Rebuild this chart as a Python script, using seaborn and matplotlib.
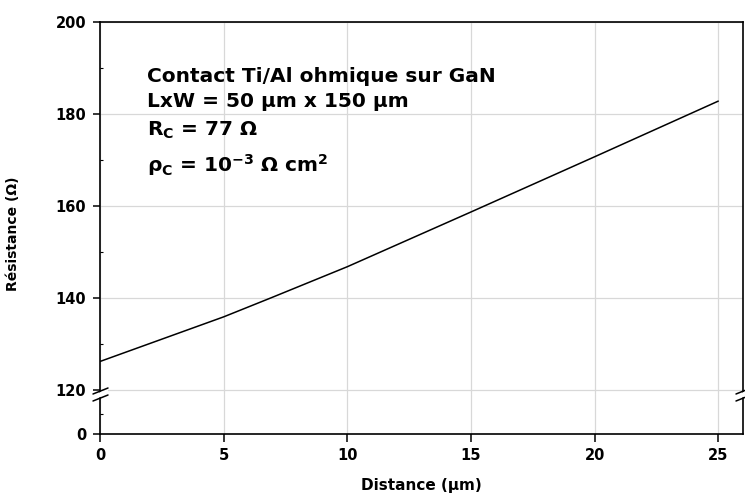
import matplotlib
matplotlib.use("Agg")
import matplotlib.pyplot as plt
from matplotlib.lines import Line2D
from matplotlib.patches import Polygon
from matplotlib.ticker import MultipleLocator, FixedLocator
import seaborn as sns
import pandas as pd

# ---- data ----
distance_um = [0, 5, 6.9, 10, 15, 20, 25]
resistance_ohm = [126.2, 135.9, 140.0, 146.8, 158.7, 170.7, 182.8]
x_ticks = [0, 5, 10, 15, 20, 25]
y_ticks_top = [120, 140, 160, 180, 200]
y_ticks_bottom = [0]
annot_lines = [
    "Contact Ti/Al ohmique sur GaN",
    "LxW = 50 µm x 150 µm",
    r"R$_\mathbf{C}$ = 77 Ω",
    r"ρ$_\mathbf{C}$ = 10$^\mathbf{-3}$ Ω cm$^\mathbf{2}$",
]
xlabel = "Distance (µm)"
ylabel = "Résistance (Ω)"

sns.set_style("white")
plt.rcParams["font.family"] = ["DejaVu Sans"]
plt.rcParams["font.weight"] = "bold"
plt.rcParams["mathtext.default"] = "bf"
for k in ("text.color", "axes.labelcolor", "xtick.color", "ytick.color", "axes.edgecolor"):
    plt.rcParams[k] = "black"

W, H = 745, 495
fig = plt.figure(figsize=(W / 100, H / 100), dpi=100)

def fx(px):
    return px / W

def fy(py):
    return 1 - py / H

left, right = 100, 743
top_t, top_b = 22, 394
bot_b = 434
ax_top = fig.add_axes([fx(left), fy(top_b), (right - left) / W, (top_b - top_t) / H])
ax_bot = fig.add_axes([fx(left), fy(bot_b), (right - left) / W, (bot_b - top_b) / H])

df = pd.DataFrame({"Distance": distance_um, "Resistance": resistance_ohm})
sns.lineplot(data=df, x="Distance", y="Resistance", ax=ax_top, color="black",
             linewidth=1.1, zorder=5)

grid_kw = dict(color="#d8d8d8", linewidth=0.9)
for ax in (ax_top, ax_bot):
    ax.set_xlim(0, 26)
    ax.xaxis.set_major_locator(FixedLocator(x_ticks))
    ax.grid(True, axis="x", **grid_kw)
    ax.set_axisbelow(True)
    for s in ax.spines.values():
        s.set_color("black")
        s.set_linewidth(1.2)
    ax.set_xlabel("")
    ax.set_ylabel("")
    ax.set_facecolor("white")

# upper axes (120-200)
scale = (390 - 22) / 80.0
ax_top.set_ylim(120 - (top_b - 390) / scale, 200)
ax_top.yaxis.set_major_locator(FixedLocator(y_ticks_top))
ax_top.yaxis.set_minor_locator(MultipleLocator(10))
ax_top.grid(True, axis="y", **grid_kw)
ax_top.spines["bottom"].set_visible(False)
ax_top.tick_params(axis="x", which="both", bottom=False, labelbottom=False)
ax_top.tick_params(axis="y", which="major", direction="out", length=5, width=1.1,
                   pad=5, labelsize=10.5, left=True, colors="black")
ax_top.tick_params(axis="y", which="minor", direction="in", length=2, width=0.8, left=True)
for t in ax_top.get_yticklabels():
    t.set_fontweight("bold")

# lower axes (0)
ax_bot.set_ylim(0, 10)
ax_bot.yaxis.set_major_locator(FixedLocator(y_ticks_bottom))
ax_bot.yaxis.set_minor_locator(FixedLocator([5]))
ax_bot.spines["top"].set_visible(False)
ax_bot.tick_params(axis="y", which="major", direction="out", length=5, width=1.1,
                   pad=5, labelsize=10.5, left=True, colors="black")
ax_bot.tick_params(axis="y", which="minor", direction="in", length=2, width=0.8, left=True)
ax_bot.tick_params(axis="x", which="major", direction="out", length=6, width=1.1,
                   pad=4, labelsize=10.5, bottom=True, colors="black")
for t in ax_bot.get_xticklabels() + ax_bot.get_yticklabels():
    t.set_fontweight("bold")

ax_bot.set_xlabel(xlabel, fontsize=11, fontweight="bold", labelpad=11, color="black")
ax_top.set_ylabel(ylabel, fontsize=10, fontweight="bold", color="black")
ax_top.yaxis.set_label_coords((20 - left) / (right - left), (top_b - 234) / (top_b - top_t))

# annotation text
base_px = [82, 107, 136, 172]
for line, py in zip(annot_lines, base_px):
    ax_top.text((147 - left) / (right - left), (top_b - py) / (top_b - top_t), line,
                transform=ax_top.transAxes, fontsize=14.5, fontweight="bold",
                ha="left", va="baseline", zorder=6, color="black")

# break marks on left and right spines
for xs in (left, right):
    gap = Polygon([(fx(xs - 7), fy(395)), (fx(xs + 8), fy(389)),
                   (fx(xs + 8), fy(394)), (fx(xs - 7), fy(400))],
                  closed=True, transform=fig.transFigure, facecolor="white",
                  edgecolor="none", zorder=10)
    fig.add_artist(gap)
    for y0 in (394, 401):
        fig.add_artist(Line2D([fx(xs - 7), fx(xs + 8)], [fy(y0), fy(y0 - 6)],
                              transform=fig.transFigure, color="black",
                              linewidth=1.1, zorder=11))

fig.savefig("out.png", dpi=100)
